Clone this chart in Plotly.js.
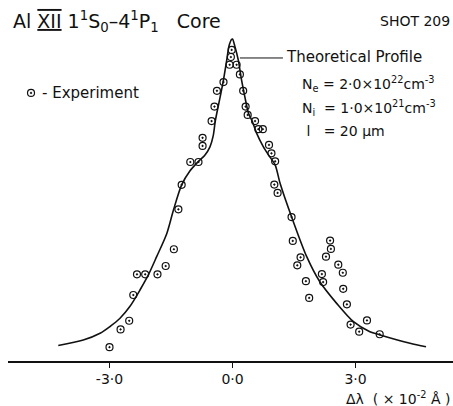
<!DOCTYPE html>
<html><head><meta charset="utf-8">
<script src="https://cdn.plot.ly/plotly-3.0.1.min.js"></script>
<style>html,body{margin:0;padding:0;background:#fff}</style>
</head><body>
<div id="chart" style="width:453px;height:406px"></div>
<script>
// Experimental points: wavelength shift (x 10^-2 Å) and relative intensity
var expX = [-3.00,-2.73,-2.52,-2.42,-2.33,-2.13,-1.83,-1.63,-1.43,-1.32,-1.24,-1.03,-0.83,-0.73,-0.73,-0.51,-0.44,-0.38,-0.22,-0.07,-0.04,-0.02,
            0.10,0.18,0.26,0.32,0.37,0.55,0.63,0.74,0.89,0.95,1.04,1.02,1.10,1.44,1.47,1.66,1.58,1.79,1.87,2.18,2.21,2.28,2.38,2.40,2.58,2.69,2.70,2.79,2.88,3.09,3.28,3.59];
var expY = [0.043,0.098,0.125,0.205,0.269,0.269,0.269,0.295,0.347,0.471,0.547,0.618,0.618,0.668,0.693,0.745,0.790,0.839,0.866,0.920,0.944,0.966,
            0.920,0.890,0.839,0.790,0.764,0.745,0.720,0.720,0.671,0.645,0.620,0.548,0.522,0.447,0.373,0.322,0.297,0.248,0.196,0.270,0.245,0.324,0.374,0.348,0.299,0.274,0.224,0.176,0.113,0.091,0.126,0.083];
// Theoretical profile
var theoX = [-4.25,-3.64,-3.23,-2.99,-2.75,-2.50,-2.25,-2.05,-1.85,-1.60,-1.44,-1.24,-1.04,-0.83,-0.68,-0.55,-0.47,-0.42,-0.30,-0.22,-0.14,-0.08,-0.02,0.00,
             0.06,0.14,0.22,0.30,0.39,0.47,0.59,0.75,0.91,1.04,1.16,1.44,1.81,2.13,2.54,2.95,3.35,3.60,4.33,4.72];
var theoY = [0.048,0.065,0.086,0.107,0.132,0.170,0.222,0.268,0.324,0.397,0.469,0.547,0.590,0.620,0.638,0.665,0.700,0.745,0.821,0.873,0.935,0.981,0.999,1.000,
             0.976,0.935,0.873,0.821,0.769,0.748,0.707,0.666,0.634,0.609,0.552,0.448,0.324,0.246,0.179,0.122,0.091,0.081,0.055,0.044];
var tickVals = [-3, 0, 3];
var tickText = ['-3·0', '0·0', '3·0'];

var FONT = 'DejaVu Sans, Liberation Sans, sans-serif';
var traces = [
  {x: theoX, y: theoY, mode: 'lines', line: {color: '#111', width: 1.6, shape: 'spline', smoothing: 0.8}, hoverinfo: 'skip'},
  {x: expX, y: expY, mode: 'markers', marker: {symbol: 'circle-open-dot', size: 7, color: '#111', line: {width: 1.2, color: '#111'}}}
];
function px(p){ return (p-8)/445; }
function py(p){ return (361-p)/361; }
var ann = [
  {text: "Al\u00a0<span style='text-decoration:underline overline'>XII</span>\u00a01<sup>1</sup>S<sub>0</sub>–4<sup>1</sup>P<sub>1</sub>\u00a0\u00a0\u00a0Core",
   xref:'paper', yref:'paper', x: px(11), y: py(21), xanchor:'left', yanchor:'middle', showarrow:false, font:{size:19, family:FONT, color:'#111'}},
  {text: 'SHOT 209', xref:'paper', yref:'paper', x: px(452), y: py(21), xanchor:'right', yanchor:'middle', showarrow:false, font:{size:14, family:FONT, color:'#111'}},
  {text: '- Experiment', xref:'paper', yref:'paper', x: px(40), y: py(93), xanchor:'left', yanchor:'middle', showarrow:false, font:{size:15, family:FONT, color:'#111'}},
  {text: 'Theoretical Profile', xref:'paper', yref:'paper', x: px(284), y: py(57), xanchor:'left', yanchor:'middle', showarrow:false, font:{size:15, family:FONT, color:'#111'}},
  {text: 'N<sub>e</sub> = 2·0×10<sup>22</sup>cm<sup>-3</sup>', xref:'paper', yref:'paper', x: px(300), y: py(84), xanchor:'left', yanchor:'middle', showarrow:false, font:{size:14, family:FONT, color:'#111'}},
  {text: 'N<sub>i</sub>\u00a0 = 1·0×10<sup>21</sup>cm<sup>-3</sup>', xref:'paper', yref:'paper', x: px(300), y: py(108), xanchor:'left', yanchor:'middle', showarrow:false, font:{size:14, family:FONT, color:'#111'}},
  {text: '\u00a0l\u00a0\u00a0 = 20 μm', xref:'paper', yref:'paper', x: px(300), y: py(131), xanchor:'left', yanchor:'middle', showarrow:false, font:{size:14, family:FONT, color:'#111'}},
  {text: 'Δλ\u00a0\u00a0(\u00a0×\u00a010<sup>-2</sup>\u00a0Å\u00a0)', xref:'paper', yref:'paper', x: px(452), y: py(398), xanchor:'right', yanchor:'middle', showarrow:false, font:{size:14, family:FONT, color:'#111'}}
];
var layout = {
  width: 453, height: 406,
  margin: {l: 8, r: 0, t: 0, b: 45},
  paper_bgcolor: '#fff', plot_bgcolor: '#fff',
  showlegend: false,
  xaxis: {range: [-5.476, 5.378], showgrid: false, zeroline: false, showline: true, linecolor: '#111', linewidth: 1.5,
          ticks: 'outside', ticklen: 5, tickwidth: 1.2, tickcolor: '#111', tickvals: tickVals, ticktext: tickText,
          tickfont: {size: 14, family: FONT, color: '#111'}},
  yaxis: {range: [0, 1.121], visible: false, showgrid: false, zeroline: false},
  annotations: ann,
  shapes: [
    {type: 'line', xref: 'x', yref: 'y', x0: 0.18, x1: 1.23, y0: 0.941, y1: 0.941, line: {color: '#111', width: 1}}
  ]
};
// legend marker sample next to "- Experiment"
traces.push({x: [(31-232.5)/41], y: [(361-93)/322], mode: 'markers', marker: {symbol: 'circle-open-dot', size: 7, color: '#111', line: {width: 1.2, color: '#111'}}, hoverinfo:'skip'});
Plotly.newPlot('chart', traces, layout, {staticPlot: true});
</script>
</body></html>
